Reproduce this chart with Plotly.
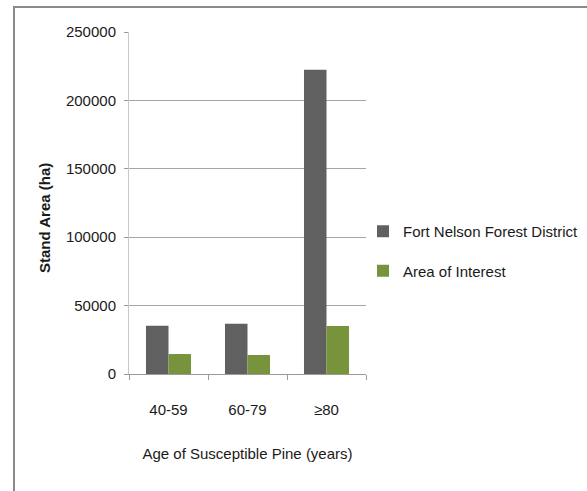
import plotly.graph_objects as go

# Stand area by age class of susceptible pine
age_classes = ["40-59", "60-79", "≥80"]
fort_nelson = [35200, 36800, 222400]
area_of_interest = [14600, 13900, 35100]
series_names = ["Fort Nelson Forest District", "Area of Interest"]
y_ticks = [0, 50000, 100000, 150000, 200000, 250000]

FONT = "Liberation Sans, Arial, sans-serif"
TEXT = "#1a1a1a"
GRAY = "#606060"
GREEN = "#77933C"

# plot-area geometry in pixels
L, R, T, B = 129, 366, 32, 374
W, H = 587, 491


def px_x(p):
    return (p - L) / (R - L)


def px_y(p):
    return (B - p) / (B - T)


fig = go.Figure()
fig.add_trace(go.Bar(x=age_classes, y=fort_nelson, name=series_names[0],
                     marker=dict(color=GRAY, line=dict(width=0)),
                     legendgroup="a"))
fig.add_trace(go.Bar(x=age_classes, y=area_of_interest, name=series_names[1],
                     marker=dict(color=GREEN, line=dict(width=0)),
                     legendgroup="b"))

fig.update_layout(
    width=W, height=H,
    margin=dict(l=L, r=W - R, t=T, b=H - B, autoexpand=False),
    paper_bgcolor="white", plot_bgcolor="white",
    barmode="group", bargap=0.43, bargroupgap=0,
    font=dict(family=FONT, size=15, color=TEXT),
    showlegend=True,
    legend=dict(x=px_x(363), y=px_y(251), xanchor="left", yanchor="middle",
                font=dict(family=FONT, size=15, color=TEXT),
                tracegroupgap=17, bgcolor="rgba(0,0,0,0)"),
    xaxis=dict(
        type="category",
        showline=True, linecolor="#9a9a9a", linewidth=1,
        ticks="outside", tickson="boundaries", ticklen=5,
        tickcolor="#9a9a9a", ticklabelstandoff=22,
        showgrid=False,
        title=dict(text="Age of Susceptible Pine (years)",
                   font=dict(family=FONT, size=15, color=TEXT),
                   standoff=31),
    ),
    yaxis=dict(
        range=[0, 250000], tickvals=y_ticks,
        ticktext=[str(v) for v in y_ticks],
        showline=True, linecolor="#c8c8c8", linewidth=1,
        ticks="outside", ticklen=4, tickcolor="#9a9a9a",
        ticklabelstandoff=5,
        showgrid=True, gridcolor="#a6a6a6", gridwidth=1,
        zeroline=False,
    ),
)

# Vertical axis title
fig.add_annotation(text="<b>Stand Area (ha)</b>", textangle=-90,
                   xref="paper", yref="paper", x=px_x(44), y=px_y(218),
                   xanchor="center", yanchor="middle", showarrow=False,
                   font=dict(family=FONT, size=15, color=TEXT))

# Outer chart frame (top and left edges visible)
fig.add_shape(type="rect", xref="paper", yref="paper",
              x0=px_x(14), x1=px_x(700), y0=px_y(600), y1=px_y(7),
              line=dict(color="#8a8a8a", width=2), fillcolor="rgba(0,0,0,0)",
              layer="below")

fig.write_html("out.html")
